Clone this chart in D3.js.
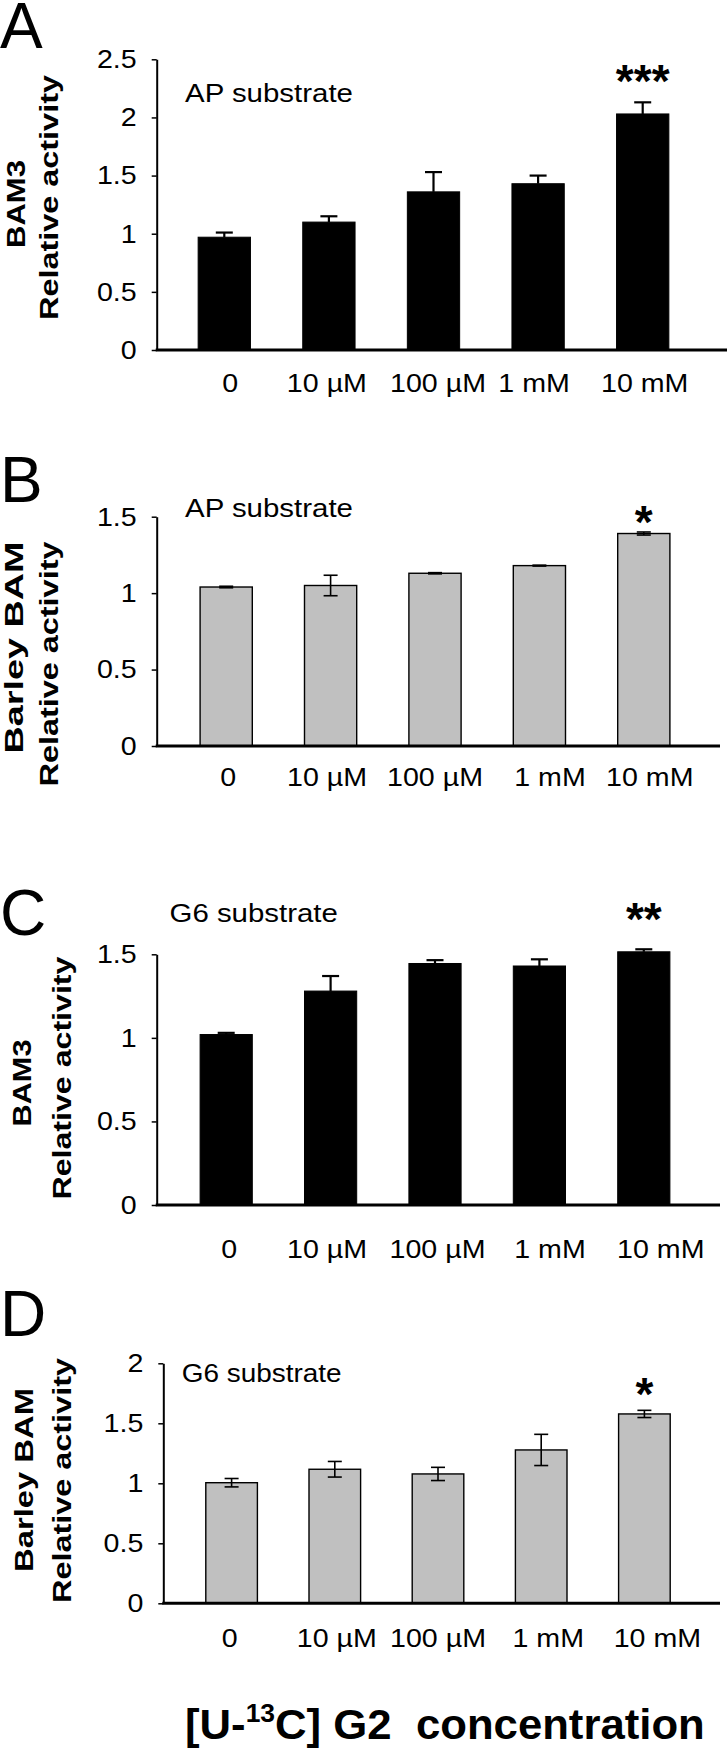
<!DOCTYPE html>
<html><head><meta charset="utf-8">
<script src="https://cdn.jsdelivr.net/npm/d3@7"></script>
<style>body{margin:0;background:#fff}</style>
</head><body>
<svg id="c" width="728" height="1748"></svg>
<script>
// ---------------- data ----------------
const categories = ["0", "10 µM", "100 µM", "1 mM", "10 mM"];

const bam3AP      = [0.97, 1.10, 1.36, 1.43, 2.03];
const bam3APErr   = [0.04, 0.05, 0.17, 0.07, 0.10];
const barleyAP    = [1.04, 1.05, 1.13, 1.18, 1.39];
const barleyAPErr = [0.005, 0.067, 0.004, 0.003, 0.01];
const bam3G6      = [1.02, 1.28, 1.445, 1.43, 1.515];
const bam3G6Err   = [0.01, 0.09, 0.02, 0.04, 0.015];
const barleyG6    = [1.005, 1.117, 1.078, 1.278, 1.578];
const barleyG6Err = [0.035, 0.065, 0.055, 0.13, 0.03];

const ticksA = [0, 0.5, 1, 1.5, 2, 2.5];
const ticksB = [0, 0.5, 1, 1.5];
const ticksC = [0, 0.5, 1, 1.5];
const ticksD = [0, 0.5, 1, 1.5, 2];

const significance = ["***", "*", "**", "*"];
const substrates = ["AP substrate", "AP substrate", "G6 substrate", "G6 substrate"];
const enzymes = ["BAM3", "Barley BAM", "BAM3", "Barley BAM"];
const yTitle2 = "Relative activity";
const letters = ["A", "B", "C", "D"];

// ---------------- layout ----------------
const FONT = "'Liberation Sans', Arial, Helvetica, sans-serif";
const HS = 1.1;

const panels = [
  {values: bam3AP, errs: bam3APErr, ticks: ticksA, yMax: 2.5, y0: 350, yTop: 59.3, axisX: 156.7,
   xRange: [172, 695], xEnd: 727, fill: "#000", twoSided: false, letterY: 48,
   sigY: 97, subX: 185, subY: 101.7, subLen: 168,
   t1: {x: 25, y: 204, len: 88}, t2: {x: 58, y: 197.5, len: 245},
   labelY: 392, labelShift: [6, -2, 4.5, -4, 2]},
  {values: barleyAP, errs: barleyAPErr, ticks: ticksB, yMax: 1.5, y0: 746, yTop: 516.7, axisX: 156.7,
   xRange: [174, 696], xEnd: 720, fill: "#c0c0c0", twoSided: true, letterY: 502,
   sigY: 538, subX: 185, subY: 516.7, subLen: 168,
   t1: {x: 23, y: 647.5, len: 212}, t2: {x: 58, y: 664, len: 245},
   labelY: 786, labelShift: [2, -3.6, 0, 10.6, 6]},
  {values: bam3G6, errs: bam3G6Err, ticks: ticksC, yMax: 1.5, y0: 1205, yTop: 954.3, axisX: 156.7,
   xRange: [174, 696], xEnd: 720, fill: "#000", twoSided: false, letterY: 935,
   sigY: 935, subX: 169.5, subY: 922, subLen: 168.5,
   t1: {x: 31, y: 1083, len: 87}, t2: {x: 71, y: 1078, len: 243},
   labelY: 1258, labelShift: [3, -3.6, 2.5, 10.6, 17]},
  {values: barleyG6, errs: barleyG6Err, ticks: ticksD, yMax: 2, y0: 1603.3, yTop: 1363.3, axisX: 163.3,
   xRange: [180, 696], xEnd: 720, fill: "#c0c0c0", twoSided: true, letterY: 1336,
   sigY: 1410, subX: 181.7, subY: 1382, subLen: 160,
   t1: {x: 33, y: 1480, len: 184}, t2: {x: 71, y: 1480.5, len: 245},
   labelY: 1647, labelShift: [-2, 2, 0, 7, 13]}
];

const svg = d3.select("#c");
svg.append("rect").attr("width", 728).attr("height", 1748).attr("fill", "#fff");

function stretched(parent, o) {
  const g = parent.append("g");
  const t = g.append("text").attr("x", 0).attr("y", 0)
    .attr("font-family", FONT).attr("font-size", o.size)
    .attr("font-weight", o.weight || "normal").attr("fill", "#000").text(o.text);
  const w = t.node().getComputedTextLength();
  const len = o.len || w * (o.factor || 1);
  const sx = len / w;
  const off = o.anchor === "middle" ? -len / 2 : o.anchor === "end" ? -len : 0;
  g.attr("transform", `translate(${o.x},${o.y}) rotate(${o.rotate || 0}) translate(${off},0) scale(${sx},1)`);
  return t;
}

panels.forEach((p, i) => {
  const g = svg.append("g");
  const x = d3.scaleBand().domain(categories).range(p.xRange).paddingInner(0.5).paddingOuter(0.25);
  const y = d3.scaleLinear().domain([0, p.yMax]).range([p.y0, p.yTop]);

  // panel letter
  stretched(g, {x: 0, y: p.letterY, text: letters[i], size: 64});

  // y axis
  const ya = g.append("g").attr("transform", `translate(${p.axisX},0)`)
    .call(d3.axisLeft(y).tickValues(p.ticks).tickSize(5).tickSizeOuter(0).tickPadding(15).tickFormat(d => String(d)));
  ya.attr("font-family", FONT).attr("font-size", 26);
  ya.select(".domain").attr("stroke", "#000").attr("stroke-width", 2);
  ya.selectAll(".tick line").attr("stroke", "#000").attr("stroke-width", 1.5);
  ya.selectAll(".tick text").attr("fill", "#000").each(function () {
    const w = this.getComputedTextLength();
    d3.select(this).attr("textLength", w * HS).attr("lengthAdjust", "spacingAndGlyphs");
  });

  // bars
  g.selectAll("rect.bar").data(p.values).join("rect").attr("class", "bar")
    .attr("x", (d, j) => x(categories[j]))
    .attr("width", x.bandwidth())
    .attr("y", d => y(d))
    .attr("height", d => y(0) - y(d))
    .attr("fill", p.fill)
    .attr("stroke", "#000").attr("stroke-width", p.twoSided ? 1.4 : 1);

  // error bars
  const capW = p.twoSided ? 14 : 17;
  const ew = p.twoSided ? 1.6 : 2.2;
  p.values.forEach((v, j) => {
    const cx = x(categories[j]) + x.bandwidth() / 2;
    const e = p.errs[j];
    const lo = p.twoSided ? v - e : v;
    const hi = v + e;
    g.append("line").attr("x1", cx).attr("x2", cx).attr("y1", y(lo)).attr("y2", y(hi))
      .attr("stroke", "#000").attr("stroke-width", ew);
    g.append("line").attr("x1", cx - capW / 2).attr("x2", cx + capW / 2).attr("y1", y(hi)).attr("y2", y(hi))
      .attr("stroke", "#000").attr("stroke-width", ew);
    if (p.twoSided) {
      g.append("line").attr("x1", cx - capW / 2).attr("x2", cx + capW / 2).attr("y1", y(lo)).attr("y2", y(lo))
        .attr("stroke", "#000").attr("stroke-width", ew);
    }
  });

  // x baseline
  g.append("line").attr("x1", p.axisX - 1).attr("x2", p.xEnd).attr("y1", y(0)).attr("y2", y(0))
    .attr("stroke", "#000").attr("stroke-width", 3);

  // category labels
  const xa = g.append("g").attr("transform", `translate(0,${p.labelY})`)
    .call(d3.axisBottom(x).tickSize(0).tickPadding(0));
  xa.select(".domain").remove();
  xa.attr("font-family", FONT).attr("font-size", 26);
  xa.selectAll(".tick text").attr("fill", "#000").attr("y", 0).attr("dy", 0)
    .attr("x", (d, j) => p.labelShift[j])
    .each(function () {
      const w = this.getComputedTextLength();
      d3.select(this).attr("textLength", w * HS).attr("lengthAdjust", "spacingAndGlyphs");
    });

  // significance
  const lastC = categories[categories.length - 1];
  stretched(g, {x: x(lastC) + x.bandwidth() / 2, y: p.sigY, text: significance[i], size: 46,
    weight: "bold", anchor: "middle", factor: 1});

  // substrate label
  stretched(g, {x: p.subX, y: p.subY, text: substrates[i], size: 26, len: p.subLen});

  // y titles
  stretched(g, {x: p.t1.x, y: p.t1.y, text: enzymes[i], size: 25, weight: "bold", anchor: "middle",
    rotate: -90, len: p.t1.len});
  stretched(g, {x: p.t2.x, y: p.t2.y, text: yTitle2, size: 25, weight: "bold", anchor: "middle",
    rotate: -90, len: p.t2.len});
});

// overall x title
const tg = svg.append("g");
const tt = tg.append("text").attr("font-family", FONT).attr("font-weight", "bold")
  .attr("font-size", 43).attr("fill", "#000");
tt.append("tspan").text("[U-");
tt.append("tspan").attr("font-size", 26).attr("dy", -17).text("13");
tt.append("tspan").attr("dy", 17).text("C] G2\u00a0 concentration");
const tw = tt.node().getBBox().width;
tg.attr("transform", `translate(185,1739) scale(${520 / tw},1)`);
</script>
</body></html>
